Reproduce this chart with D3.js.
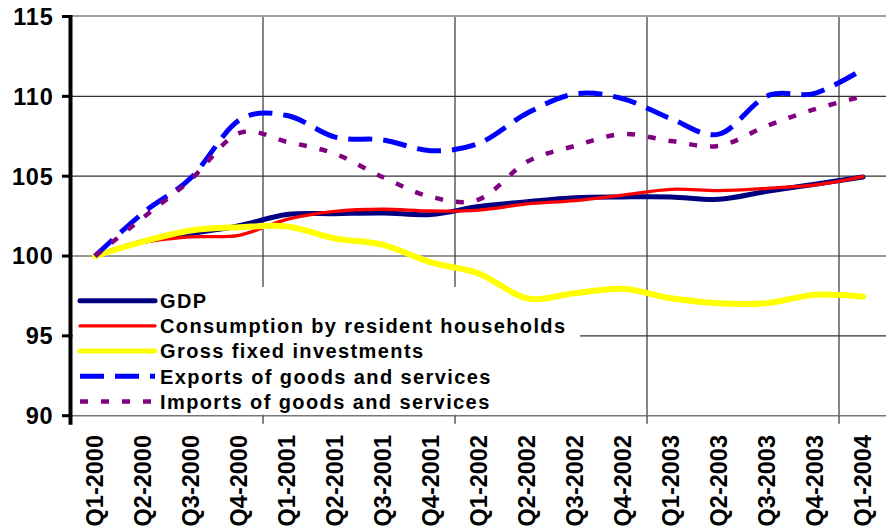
<!DOCTYPE html>
<html lang="en">
<head>
<meta charset="UTF-8">
<title>GDP components index</title>
<style>
  body { margin: 0; background: #fff; }
  svg { display: block; font-family: "Liberation Sans", Arial, sans-serif; font-weight: bold; }
</style>
</head>
<body>
<script src="https://d3js.org/d3.v7.min.js"></script>
<div id="chart"></div>
<script>

const width = 886;
const height = 531;

// categories
const quarters = ["Q1-2000", "Q2-2000", "Q3-2000", "Q4-2000",
                  "Q1-2001", "Q2-2001", "Q3-2001", "Q4-2001",
                  "Q1-2002", "Q2-2002", "Q3-2002", "Q4-2002",
                  "Q1-2003", "Q2-2003", "Q3-2003", "Q4-2003",
                  "Q1-2004"];

// series values (index, Q1-2000 = 100)
const gdp         = [100, 100.9, 101.4, 101.9, 102.6, 102.65, 102.7, 102.6, 103.1, 103.4, 103.65, 103.7, 103.7, 103.55, 104.05, 104.5, 104.95];
const consumption = [100, 100.85, 101.2, 101.3, 102.3, 102.8, 102.93, 102.82, 102.88, 103.26, 103.47, 103.82, 104.18, 104.1, 104.24, 104.45, 104.97];
const investments = [100, 100.9, 101.6, 101.8, 101.85, 101.1, 100.7, 99.6, 98.9, 97.35, 97.67, 97.95, 97.35, 97.04, 97.05, 97.58, 97.45];
const exportsGS   = [100, 102.7, 104.9, 108.5, 108.8, 107.45, 107.27, 106.6, 107.06, 108.94, 110.15, 109.85, 108.6, 107.63, 110.02, 110.19, 111.7];
const importsGS   = [100, 102.4, 104.8, 107.7, 107.15, 106.4, 104.93, 103.7, 103.55, 105.9, 106.9, 107.64, 107.2, 106.9, 108.15, 109.2, 110.0];

const yTicks = [90, 95, 100, 105, 110, 115];

const series = [
    { name: "GDP", values: gdp, color: "#000080", width: 5, dash: null },
    { name: "Consumption by resident households", values: consumption, color: "#ff0000", width: 3.3, dash: null },
    { name: "Gross fixed investments", values: investments, color: "#ffff00", width: 6, dash: null },
    { name: "Exports of goods and services", values: exportsGS, color: "#0000ff", width: 5, dash: "24,11" },
    { name: "Imports of goods and services", values: importsGS, color: "#800080", width: 4.5, dash: "8,13" }
];

const svg = d3.select("#chart").append("svg")
    .attr("width", width)
    .attr("height", height);

const plotLeft = 71, plotRight = 887, plotTop = 16.5, plotBottom = 415.7;

const x = d3.scaleBand()
    .domain(quarters)
    .range([plotLeft, plotRight]);

const y = d3.scaleLinear()
    .domain([90, 115])
    .range([plotBottom, plotTop]);

const cx = q => x(q) + x.bandwidth() / 2;

// horizontal gridlines
svg.append("g").selectAll("line")
    .data(yTicks.filter(t => t > 90 && t < 115))
    .enter().append("line")
    .attr("x1", plotLeft).attr("x2", width)
    .attr("y1", d => y(d)).attr("y2", d => y(d))
    .attr("stroke", "#333").attr("stroke-width", 1.2);

// vertical gridlines every 4 quarters
const yearStarts = quarters.filter((q, i) => i % 4 === 0 && i > 0);
svg.append("g").selectAll("line")
    .data(yearStarts)
    .enter().append("line")
    .attr("x1", d => x(d)).attr("x2", d => x(d))
    .attr("y1", plotTop).attr("y2", plotBottom)
    .attr("stroke", "#333").attr("stroke-width", 1.2);

// top border
svg.append("line")
    .attr("x1", plotLeft).attr("x2", width)
    .attr("y1", plotTop - 0.5).attr("y2", plotTop - 0.5)
    .attr("stroke", "#a0a0a0").attr("stroke-width", 2);

// legend box (under the lines, over the gridlines)
const legendX = 73, legendY = 287;
svg.append("rect")
    .attr("x", legendX).attr("y", legendY)
    .attr("width", 507).attr("height", plotBottom - legendY - 1)
    .attr("fill", "#fff");

// bottom axis
svg.append("line")
    .attr("x1", plotLeft).attr("x2", width)
    .attr("y1", plotBottom).attr("y2", plotBottom)
    .attr("stroke", "#777").attr("stroke-width", 1.5);

svg.append("g").selectAll("line")
    .data(quarters.filter((q, i) => i % 4 === 0))
    .enter().append("line")
    .attr("x1", d => x(d)).attr("x2", d => x(d))
    .attr("y1", plotBottom).attr("y2", plotBottom + 8)
    .attr("stroke", "#555").attr("stroke-width", 1.5);

svg.append("g").selectAll("text")
    .data(quarters)
    .enter().append("text")
    .attr("transform", d => "translate(" + cx(d) + "," + 435 + ") rotate(-90)")
    .attr("dy", "0.36em")
    .attr("text-anchor", "end")
    .style("font-size", "23.5px")
    .attr("fill", "#000")
    .text(d => d);

// left axis
svg.append("line")
    .attr("x1", plotLeft - 0.5).attr("x2", plotLeft - 0.5)
    .attr("y1", plotTop - 1.5).attr("y2", plotBottom + 9)
    .attr("stroke", "#000").attr("stroke-width", 4);

svg.append("g").selectAll("line")
    .data(yTicks)
    .enter().append("line")
    .attr("x1", 62).attr("x2", plotLeft)
    .attr("y1", d => y(d)).attr("y2", d => y(d))
    .attr("stroke", "#000").attr("stroke-width", 3);

svg.append("g").selectAll("text")
    .data(yTicks)
    .enter().append("text")
    .attr("x", 53.5)
    .attr("y", d => y(d))
    .attr("dy", "0.36em")
    .attr("text-anchor", "end")
    .style("font-size", "23.5px")
    .style("letter-spacing", "0.8px")
    .text(d => d);

// series lines
const line = d3.line()
    .x((d, i) => cx(quarters[i]))
    .y(d => y(d))
    .curve(d3.curveCardinal);

svg.append("g").selectAll("path")
    .data(series)
    .enter().append("path")
    .attr("d", d => line(d.values))
    .attr("fill", "none")
    .attr("stroke", d => d.color)
    .attr("stroke-width", d => d.width)
    .attr("stroke-dasharray", d => d.dash)
    .attr("stroke-linecap", d => d.dash ? "butt" : "round")
    .attr("stroke-linejoin", "round");

// legend entries
const legend = svg.append("g");
const rows = legend.selectAll("g")
    .data(series)
    .enter().append("g")
    .attr("transform", (d, i) => "translate(0," + (300.7 + i * 25.2) + ")");

rows.append("line")
    .attr("x1", 80).attr("x2", 155)
    .attr("y1", 0).attr("y2", 0)
    .attr("stroke", d => d.color)
    .attr("stroke-width", d => Math.min(d.width, 5))
    .attr("stroke-dasharray", d => d.dash)
    .attr("stroke-linecap", d => d.dash ? "butt" : "round");

rows.append("text")
    .attr("x", 160)
    .attr("dy", "0.36em")
    .style("font-size", "20px")
    .style("letter-spacing", "1.4px")
    .text(d => d.name);

</script>
</body>
</html>
